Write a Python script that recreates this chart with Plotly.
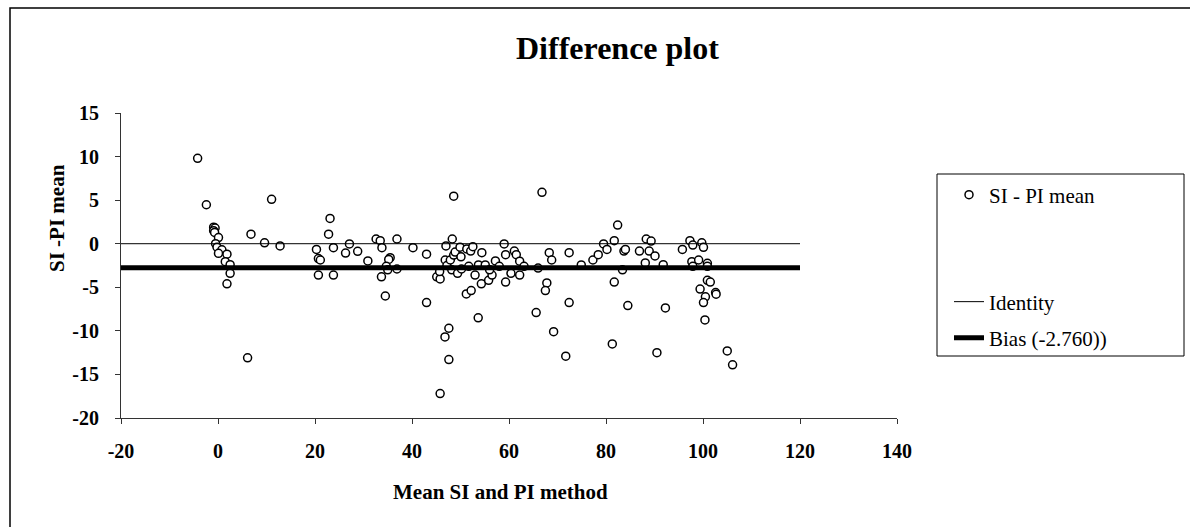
import plotly.graph_objects as go

# Data (mean of SI and PI, difference SI - PI)
mean_x = [
    -4.2, -2.4, -0.9, -0.6, -0.9, -0.7, 0.1, -0.5, -0.2, 0.8, 0.1, 1.85, 1.5, 2.5, 2.5, 1.85,
    6.1, 6.8, 9.6, 11.05, 12.8, 20.3, 20.7, 21.1, 20.7, 23.1, 22.8, 23.8, 23.8, 26.3, 27.1,
    28.8, 30.9, 32.6, 33.45, 33.8, 35.5, 35.2, 34.7, 35.0, 33.7, 34.5, 36.9, 36.9,
    40.2, 43.0, 43.0, 45.1, 45.8, 45.7, 45.8, 46.8, 47.6, 47.6, 48.6, 47.0, 48.3, 46.85,
    47.2, 47.9, 48.2, 49.4, 48.6, 48.9, 49.9, 50.1, 50.2, 51.3, 52.1, 52.55, 51.7, 53.0,
    53.7, 54.4, 54.3, 55.1, 51.2, 52.2, 53.65, 55.8, 56.5, 56.0, 57.2, 58.0, 59.0, 59.3,
    59.3, 60.4, 61.1, 61.5, 62.2, 62.2, 63.1, 66.0, 65.6, 66.8, 67.8, 67.5, 68.3, 68.8,
    69.2, 71.7, 72.4, 72.4, 74.9, 77.3, 78.4, 79.5, 80.2, 81.7, 82.4, 81.7, 81.3, 83.4,
    83.7, 84.0, 84.5, 86.9, 88.3, 88.1, 88.9, 89.3, 90.1, 91.8, 92.25, 90.5, 95.75, 97.3,
    97.9, 99.75, 100.1, 97.7, 97.9, 99.1, 100.9, 100.9, 100.9, 101.5, 99.4, 102.6, 102.7,
    100.5, 100.1, 100.4, 105.0, 106.1,
]
diff_y = [
    9.8, 4.47, 1.9, 1.8, 1.5, 1.3, 0.7, 0.0, -0.4, -0.7, -1.1, -1.2, -2.06, -2.4, -3.4, -4.6,
    -13.1, 1.1, 0.1, 5.1, -0.26, -0.65, -1.7, -1.87, -3.6, 2.9, 1.1, -0.46, -3.6, -1.07, -0.03,
    -0.87, -1.98, 0.54, 0.35, -0.46, -1.6, -1.8, -2.6, -3.0, -3.8, -6.0, 0.54, -2.9,
    -0.46, -1.2, -6.76, -3.8, -4.04, -3.2, -17.2, -10.7, -9.7, -13.3, 5.46, -0.26, 0.54, -1.87,
    -2.5, -1.87, -3.0, -3.4, -1.3, -0.96, -0.4, -1.5, -2.9, -0.6, -0.84, -0.34, -2.6, -3.6,
    -2.44, -1.03, -4.6, -2.44, -5.76, -5.38, -8.5, -4.2, -3.6, -3.0, -1.98, -2.6, -0.03, -1.26,
    -4.4, -3.4, -0.84, -1.26, -2.0, -3.6, -2.6, -2.8, -7.9, 5.9, -4.5, -5.38, -1.03, -1.87,
    -10.1, -12.9, -1.03, -6.76, -2.44, -1.87, -1.26, -0.03, -0.65, 0.35, 2.14, -4.4, -11.5, -3.0,
    -0.84, -0.65, -7.1, -0.84, 0.54, -2.2, -0.84, 0.3, -1.4, -2.4, -7.37, -12.5, -0.65, 0.35,
    -0.15, 0.11, -0.41, -2.06, -2.6, -1.87, -2.25, -2.6, -4.2, -4.4, -5.2, -5.6, -5.8,
    -6.1, -6.76, -8.74, -12.3, -13.9,
]
line_x = [-20, 120]
identity_y = [0, 0]
bias_value = -2.760
bias_y = [bias_value, bias_value]
x_ticks = [-20, 0, 20, 40, 60, 80, 100, 120, 140]
x_tick_text = ["-20", "0", "20", "40", "60", "80", "100", "120", "140"]
y_ticks = [-20, -15, -10, -5, 0, 5, 10, 15]
y_tick_text = ["-20", "-15", "-10", "-5", "0", "5", "10", "15"]

FONT = "Liberation Serif"

# plot area in pixels
W, H = 1190, 527
L, R, T, B = 121, 293, 113, 109
pw, ph = W - L - R, H - T - B

def px_x(p):
    return (p - L) / pw

def px_y(p):
    return (H - B - p) / ph

fig = go.Figure()
fig.add_trace(go.Scatter(
    x=mean_x, y=diff_y, mode="markers", name="SI - PI mean", legend="legend",
    marker=dict(symbol="circle", size=8, color="white",
                line=dict(color="black", width=1.5)),
))
fig.add_trace(go.Scatter(
    x=line_x, y=identity_y, mode="lines", name="Identity", legend="legend2",
    line=dict(color="black", width=1),
))
fig.add_trace(go.Scatter(
    x=line_x, y=bias_y, mode="lines", name="Bias (-2.760))", legend="legend3",
    line=dict(color="black", width=5),
))

axis_common = dict(
    showgrid=False, zeroline=False, showline=True, linecolor="#333", linewidth=1,
    ticks="outside", ticklen=5, tickcolor="#333", mirror=False,
    tickfont=dict(family=FONT, size=20, color="black", weight="bold"),
)
fig.update_xaxes(range=[-20, 140], tickvals=x_ticks, ticktext=x_tick_text,
                 ticklabelstandoff=10, **axis_common)
fig.update_yaxes(range=[-20, 15], tickvals=y_ticks, ticktext=y_tick_text,
                 ticklabelstandoff=12, **axis_common)

legend_common = dict(
    xanchor="left", yanchor="middle", borderwidth=0, bgcolor="rgba(0,0,0,0)",
    font=dict(family=FONT, size=21, color="black"),
)

fig.update_layout(
    width=W, height=H,
    margin=dict(l=L, r=R, t=T, b=B, pad=0),
    paper_bgcolor="white", plot_bgcolor="white",
    showlegend=True,
    legend=dict(x=px_x(949), y=px_y(195), **legend_common),
    legend2=dict(x=px_x(949), y=px_y(302), **legend_common),
    legend3=dict(x=px_x(949), y=px_y(338), **legend_common),
    annotations=[
        dict(text="Difference plot", x=px_x(617), y=px_y(48), xref="paper", yref="paper",
             showarrow=False, xanchor="center", yanchor="middle",
             font=dict(family=FONT, size=32, color="black", weight="bold")),
        dict(text="Mean SI and PI method", x=px_x(500), y=px_y(492), xref="paper", yref="paper",
             showarrow=False, xanchor="center", yanchor="middle",
             font=dict(family=FONT, size=21, color="black", weight="bold")),
        dict(text="SI -PI mean", x=px_x(57), y=px_y(218), xref="paper", yref="paper",
             showarrow=False, xanchor="center", yanchor="middle", textangle=-90,
             font=dict(family=FONT, size=21, color="black", weight="bold")),
    ],
    shapes=[
        dict(type="rect", xref="paper", yref="paper",
             x0=px_x(10), x1=px_x(1200), y0=px_y(8), y1=px_y(540),
             line=dict(color="black", width=1.5), fillcolor="rgba(0,0,0,0)", layer="below"),
        dict(type="rect", xref="paper", yref="paper",
             x0=px_x(937), x1=px_x(1184), y0=px_y(174), y1=px_y(356),
             line=dict(color="black", width=1), fillcolor="white", layer="below"),
    ],
)

fig.write_html("out.html")
